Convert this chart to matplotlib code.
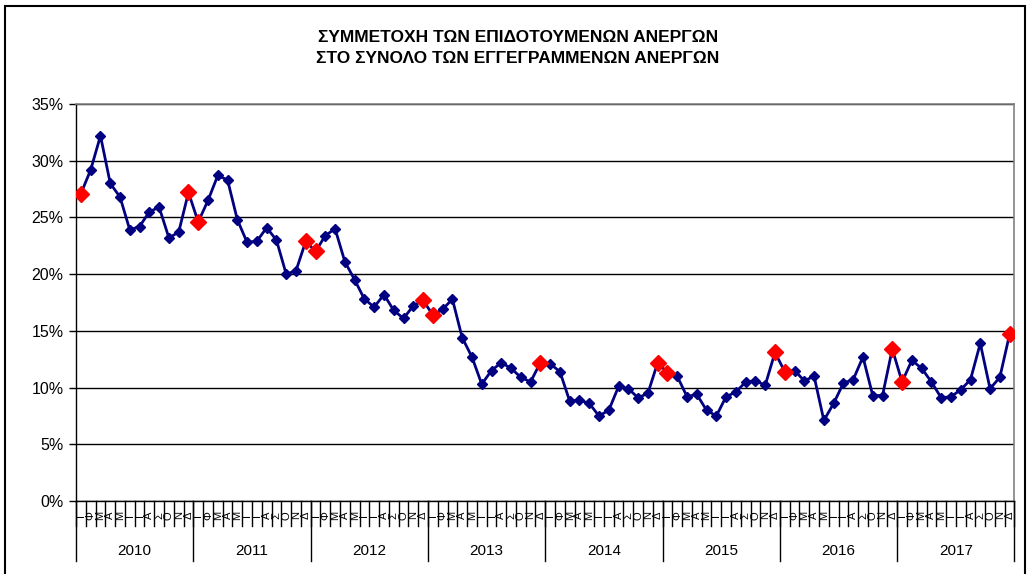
import numpy as np
import matplotlib.pyplot as plt
from matplotlib.patches import Rectangle
from matplotlib.ticker import FuncFormatter

plt.rcParams['font.family'] = ['Liberation Sans', 'DejaVu Sans']

years = ['2010', '2011', '2012', '2013', '2014', '2015', '2016', '2017']
months = ['Ι', 'Φ', 'Μ', 'Α', 'Μ', 'Ι', 'Ι', 'Α', 'Σ', 'Ο', 'Ν', 'Δ']

# share (%) of subsidised unemployed, monthly
share_2010 = [27.1, 29.2, 32.2, 28.0, 26.8, 23.9, 24.2, 25.5, 25.9, 23.2, 23.7, 27.2]
share_2011 = [24.6, 26.5, 28.7, 28.3, 24.8, 22.8, 22.9, 24.1, 23.0, 20.0, 20.3, 22.9]
share_2012 = [22.0, 23.4, 24.0, 21.1, 19.5, 17.8, 17.1, 18.2, 16.8, 16.1, 17.2, 17.7]
share_2013 = [16.4, 16.9, 17.8, 14.4, 12.7, 10.3, 11.5, 12.2, 11.7, 10.9, 10.5, 12.2]
share_2014 = [12.1, 11.4, 8.8, 8.9, 8.6, 7.5, 8.0, 10.1, 9.9, 9.1, 9.5, 12.2]
share_2015 = [11.3, 11.0, 9.2, 9.4, 8.0, 7.5, 9.2, 9.6, 10.5, 10.6, 10.2, 13.1]
share_2016 = [11.4, 11.5, 10.6, 11.0, 7.1, 8.6, 10.4, 10.7, 12.7, 9.3, 9.3, 13.4]
share_2017 = [10.5, 12.4, 11.7, 10.5, 9.1, 9.2, 9.8, 10.7, 13.9, 9.9, 10.9, 14.7]

# months drawn with red markers (index into the full monthly series)
highlight = [0, 11, 12, 23, 24, 35, 36, 47, 59, 60, 71, 72, 83, 84, 95]

values = np.array(share_2010 + share_2011 + share_2012 + share_2013 +
                  share_2014 + share_2015 + share_2016 + share_2017) / 100
n = len(values)
x = np.arange(n)

fig = plt.figure(figsize=(10.29, 5.74), dpi=100)
ax = fig.add_axes([0.0739, 0.1272, 0.9120, 0.6916])

# outer chart frame
fig.patches.append(Rectangle((0.005, -0.05), 0.991, 1.04, transform=fig.transFigure,
                             fill=False, edgecolor='black', linewidth=1.5))

ax.plot(x, values, color='#000080', linewidth=2, marker='D', markersize=5.5,
        markerfacecolor='#000080', markeredgecolor='#000080', zorder=3)
hx = np.array(highlight)
ax.plot(hx, values[hx], linestyle='none', marker='D', markersize=8.5,
        color='#ff0000', zorder=4)

ax.set_xlim(-0.5, n - 0.5)
ax.set_ylim(0, 0.35)
ax.set_yticks(np.arange(0, 0.351, 0.05))
ax.yaxis.set_major_formatter(FuncFormatter(lambda v, p: f'{v * 100:.0f}%'))
ax.tick_params(axis='y', labelsize=11.5, length=5, width=1, pad=4)
ax.set_xticks([])
ax.grid(axis='y', color='black', linewidth=1)
ax.set_axisbelow(True)

for s in ['top', 'right']:
    ax.spines[s].set_color('#808080')
    ax.spines[s].set_linewidth(1.2)
ax.spines['bottom'].set_linewidth(1)
ax.spines['left'].set_linewidth(1)

# two-level category axis (months / years)
trans = ax.get_xaxis_transform()
for i in range(n + 1):
    ax.plot([i - 0.5, i - 0.5], [0, -0.062], transform=trans, color='black',
            linewidth=1, clip_on=False)
for i in range(n):
    ax.text(i, -0.036, months[i % 12], transform=trans, rotation=90,
            ha='center', va='center', fontsize=8)
for k, yr in enumerate(years):
    ax.plot([12 * k - 0.5, 12 * k - 0.5], [0, -0.15], transform=trans,
            color='black', linewidth=1, clip_on=False)
    ax.text(12 * k + 5.5, -0.125, yr, transform=trans, ha='center', va='center',
            fontsize=11)
ax.plot([n - 0.5, n - 0.5], [0, -0.15], transform=trans, color='black',
        linewidth=1, clip_on=False)

fig.text(0.503, 0.917, 'ΣΥΜΜΕΤΟΧΗ ΤΩΝ ΕΠΙΔΟΤΟΥΜΕΝΩΝ ΑΝΕΡΓΩΝ\nΣΤΟ ΣΥΝΟΛΟ ΤΩΝ ΕΓΓΕΓΡΑΜΜΕΝΩΝ ΑΝΕΡΓΩΝ',
         ha='center', va='center', fontsize=12.5, fontweight='bold',
         family=['Liberation Sans Narrow', 'Liberation Sans', 'DejaVu Sans'],
         linespacing=1.5)

fig.savefig('out.png', dpi=100)
